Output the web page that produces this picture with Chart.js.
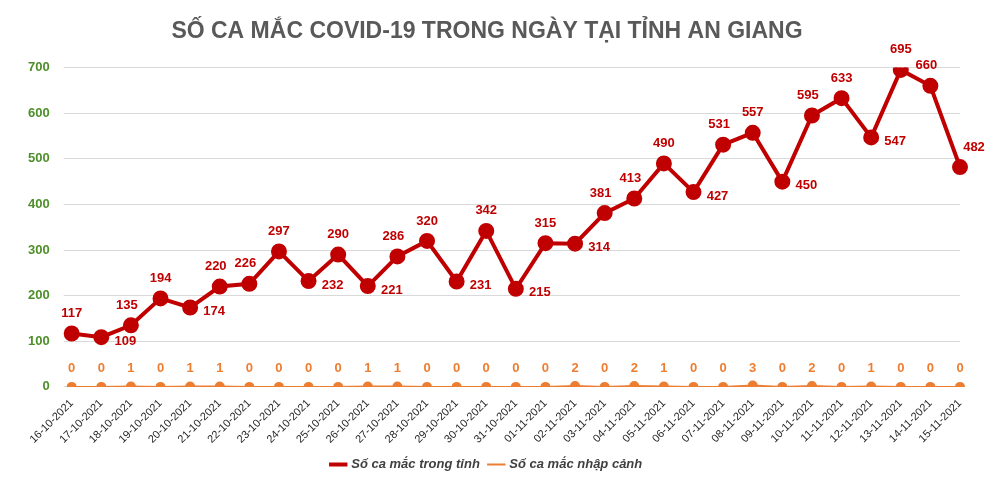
<!DOCTYPE html>
<html>
<head>
<meta charset="utf-8">
<script src="https://cdn.jsdelivr.net/npm/chart.js@4"></script>
<style>
  html, body { margin: 0; padding: 0; background: #fff; }
  #wrap { width: 990px; height: 489px; }
</style>
</head>
<body>
<div id="wrap"><canvas id="c"></canvas></div>
<script>
// Data
const dates = ['16-10-2021','17-10-2021','18-10-2021','19-10-2021','20-10-2021','21-10-2021','22-10-2021',
  '23-10-2021','24-10-2021','25-10-2021','26-10-2021','27-10-2021','28-10-2021','29-10-2021','30-10-2021',
  '31-10-2021','01-11-2021','02-11-2021','03-11-2021','04-11-2021','05-11-2021','06-11-2021','07-11-2021',
  '08-11-2021','09-11-2021','10-11-2021','11-11-2021','12-11-2021','13-11-2021','14-11-2021','15-11-2021'];
const localCases = [117,109,135,194,174,220,226,297,232,290,221,286,320,231,342,215,315,314,381,413,490,427,531,557,450,595,633,547,695,660,482];
const importedCases = [0,0,1,0,1,1,0,0,0,0,1,1,0,0,0,0,0,2,0,2,1,0,0,3,0,2,0,1,0,0,0];
const yTicks = [0,100,200,300,400,500,600,700];

const RED = '#c00000';
const ORANGE = '#ed7d31';

// Draw value labels next to each point
const valueLabels = {
  id: 'valueLabels',
  afterDatasetsDraw(chart) {
    const ctx = chart.ctx;
    ctx.save();
    ctx.font = 'bold 13px "Liberation Sans", Arial, sans-serif';
    ctx.textAlign = 'center';
    ctx.textBaseline = 'middle';
    chart.data.datasets.forEach((ds, di) => {
      const meta = chart.getDatasetMeta(di);
      meta.data.forEach((pt, i) => {
        const v = ds.data[i];
        let x = pt.x, y = pt.y;
        if (di === 0) {
          const prev = i > 0 ? ds.data[i - 1] : -Infinity;
          const next = i < ds.data.length - 1 ? ds.data[i + 1] : -Infinity;
          if (i === ds.data.length - 1) { x += 14; y -= 20; }
          else if (v >= prev && v >= next) y -= 20;
          else if (v <= prev && v <= next && i > 0) { x += 24; y += 4; }
          else { y -= 20; x -= 4; }
          ctx.fillStyle = RED;
        } else {
          y = chart.scales.y.getPixelForValue(0) - 18;
          ctx.fillStyle = ORANGE;
        }
        ctx.fillText(String(v), x, y);
      });
    });
    ctx.restore();
  }
};

new Chart(document.getElementById('c'), {
  type: 'line',
  data: {
    labels: dates,
    datasets: [
      {
        label: 'Số ca mắc trong tỉnh',
        data: localCases,
        borderColor: RED,
        backgroundColor: RED,
        borderWidth: 4,
        pointRadius: 6,
        pointHoverRadius: 6,
        tension: 0
      },
      {
        label: 'Số ca mắc nhập cảnh',
        data: importedCases,
        borderColor: ORANGE,
        backgroundColor: ORANGE,
        borderWidth: 2,
        pointRadius: 4,
        tension: 0
      }
    ]
  },
  options: {
    responsive: true,
    maintainAspectRatio: false,
    animation: false,
    layout: { padding: { left: 14, right: 30, top: 4, bottom: 8 } },
    plugins: {
      title: {
        display: true,
        text: 'SỐ CA MẮC COVID-19 TRONG NGÀY TẠI TỈNH AN GIANG',
        color: '#595959',
        font: { family: '"Liberation Sans Narrow", "Liberation Sans", Arial', size: 23, weight: 'bold' },
        padding: { top: 14, bottom: 22 }
      },
      legend: {
        position: 'bottom',
        labels: {
          usePointStyle: true,
          pointStyle: 'line',
          color: '#404040',
          font: { family: '"Liberation Sans", Arial', size: 13, weight: 'bold', style: 'italic' },
          padding: 10,
          generateLabels(chart) {
            return chart.data.datasets.map((ds, i) => ({
              text: ds.label, fillStyle: ds.borderColor, strokeStyle: ds.borderColor,
              lineWidth: ds.borderWidth, pointStyle: 'line', datasetIndex: i, fontColor: '#404040'
            }));
          }
        }
      },
      tooltip: { enabled: false }
    },
    scales: {
      x: {
        grid: { display: false },
        border: { color: '#bfbfbf' },
        ticks: {
          color: '#262626', maxRotation: 45, minRotation: 45, autoSkip: false, padding: 2,
          font: { family: '"Liberation Sans", Arial', size: 11 }
        }
      },
      y: {
        min: 0, max: 700,
        afterBuildTicks(axis) { axis.ticks = yTicks.map(v => ({ value: v })); },
        grid: { color: '#d9d9d9' },
        border: { display: false },
        ticks: {
          color: '#4e8f2a', padding: 14,
          font: { family: '"Liberation Sans", Arial', size: 13, weight: 'bold' }
        }
      }
    }
  },
  plugins: [valueLabels]
});
</script>
</body>
</html>
